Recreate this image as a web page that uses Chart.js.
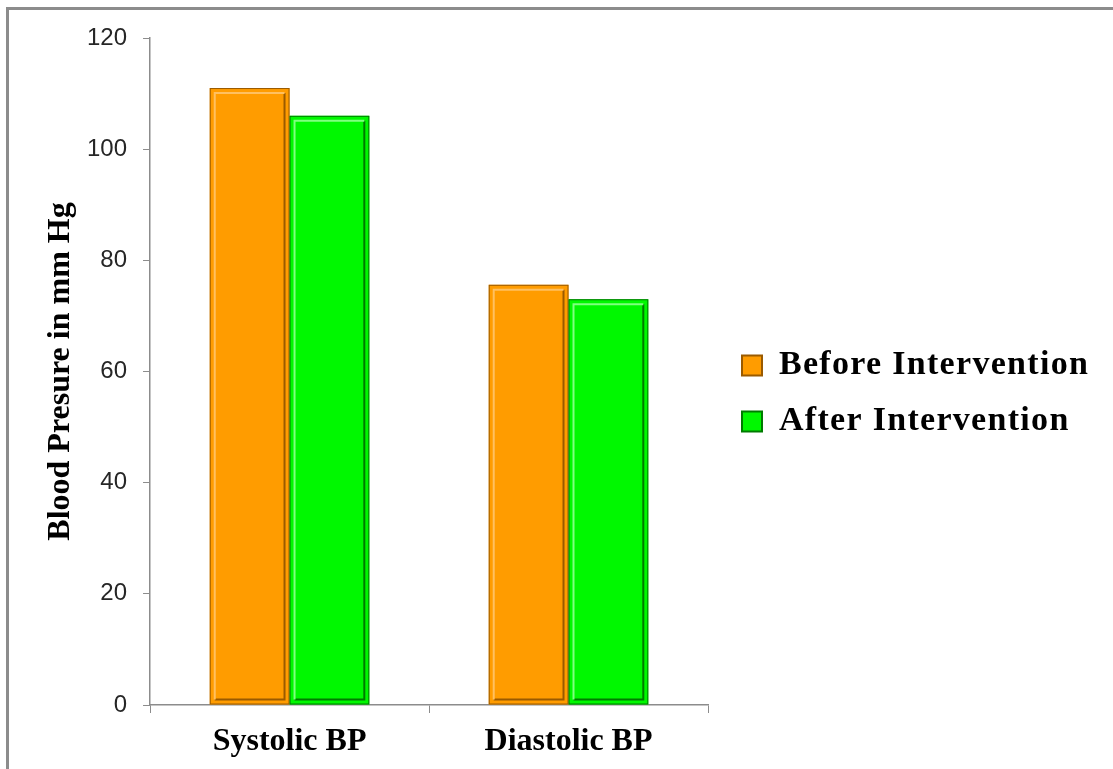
<!DOCTYPE html>
<html>
<head>
<meta charset="utf-8">
<script src="https://cdn.jsdelivr.net/npm/chart.js@4.4.1/dist/chart.umd.min.js"></script>
<style>
  html, body { margin: 0; padding: 0; background: #fff; }
  #wrap { position: relative; width: 1113px; height: 769px; overflow: hidden; }
  #frame { position: absolute; left: 6px; top: 7px; right: 0; bottom: -10px;
           border-left: 3px solid #8c8c8c; border-top: 3px solid #8c8c8c; pointer-events: none; }
  canvas { position: absolute; left: 0; top: 0; }
</style>
</head>
<body>
<div id="wrap">
  <canvas id="bp" width="1113" height="769"></canvas>
  <div id="frame"></div>
</div>
<script>
// ── data ──────────────────────────────────────────────────────────────────
const categories = ['Systolic BP', 'Diastolic BP'];
const seriesNames = ['Before Intervention', 'After Intervention'];
const beforeValues = [111, 75.6];
const afterValues = [106, 73];
const yTicks = [0, 20, 40, 60, 80, 100, 120];

const orange = { fill: '#ff9c00', dark: '#9a5a00', light: '#ffc060' };
const green = { fill: '#00f800', dark: '#007a00', light: '#80ff80' };

// Bevel look of the Excel bars: dark rim right/bottom, light rim top/left.
const bevel = {
    id: 'bevel',
    afterDatasetsDraw(chart) {
        const ctx = chart.ctx;
        chart.data.datasets.forEach((ds, i) => {
            const col = ds._col;
            chart.getDatasetMeta(i).data.forEach((bar) => {
                const l = bar.x - bar.width / 2, r = bar.x + bar.width / 2;
                const t = bar.y, b = bar.base;
                ctx.save();
                ctx.lineWidth = 2;
                ctx.strokeStyle = col.dark;
                ctx.beginPath();
                ctx.moveTo(r - 5, t + 5); ctx.lineTo(r - 5, b - 5); ctx.lineTo(l + 5, b - 5);
                ctx.stroke();
                ctx.strokeStyle = col.light;
                ctx.beginPath();
                ctx.moveTo(l + 5, b - 5); ctx.lineTo(l + 5, t + 5); ctx.lineTo(r - 5, t + 5);
                ctx.stroke();
                ctx.lineWidth = 1;
                ctx.strokeStyle = col.dark;
                ctx.strokeRect(l + 0.5, t + 0.5, bar.width - 1, b - t - 1);
                ctx.restore();
            });
        });
    },
};

// Legend in the reference is wider than Chart.js allows a side box to be,
// so widen it after fit and nudge it into place.
const LEGEND_W = 405;
const legendTweak = {
    id: 'legendTweak',
    beforeLayout(chart) {
        const lg = chart.legend;
        if (!lg || lg._tweaked) return;
        lg._tweaked = true;
        const fit = lg.fit.bind(lg);
        lg.fit = function () { fit(); this.width = LEGEND_W; };
        const draw = lg.draw.bind(lg);
        lg.draw = function () {
            const ctx = this.ctx;
            const prev = ctx.letterSpacing;
            ctx.letterSpacing = '1.3px';
            draw();
            ctx.letterSpacing = prev || '0px';
        };
    },
    afterLayout(chart) {
        const lg = chart.legend;
        lg.left += 12; lg.right += 12;
        lg.top -= 11; lg.bottom -= 11;
    },
};

const serif = '"Liberation Serif", "Times New Roman", serif';

new Chart(document.getElementById('bp'), {
    type: 'bar',
    data: {
        labels: categories,
        datasets: [
            { label: seriesNames[0], data: beforeValues, backgroundColor: orange.fill,
              borderColor: orange.dark, borderWidth: 0, _col: orange },
            { label: seriesNames[1], data: afterValues, backgroundColor: green.fill,
              borderColor: green.dark, borderWidth: 0, _col: green },
        ],
    },
    options: {
        responsive: false,
        animation: false,
        layout: { padding: { left: 45, top: 38, right: 0, bottom: -2 } },
        datasets: { bar: { categoryPercentage: 0.572, barPercentage: 1 } },
        plugins: {
            tooltip: { enabled: false },
            legend: {
                position: 'right',
                labels: {
                    font: { family: serif, size: 34, weight: 'bold' },
                    color: '#000',
                    boxWidth: 20,
                    boxHeight: 20,
                    padding: 22,
                    generateLabels: (chart) => chart.data.datasets.map((ds, i) => ({
                        text: ds.label, fillStyle: ds._col.fill, strokeStyle: ds._col.dark,
                        lineWidth: 2, datasetIndex: i, hidden: false,
                    })),
                },
            },
        },
        scales: {
            x: {
                grid: { drawOnChartArea: false, offset: true, color: '#8c8c8c', tickLength: 8 },
                border: { color: '#8c8c8c', width: 1.5 },
                ticks: { color: '#000', padding: 13, font: { family: serif, size: 32, weight: 'bold', lineHeight: 1 } },
            },
            y: {
                min: 0, max: 120,
                afterBuildTicks: (axis) => { axis.ticks = yTicks.map((v) => ({ value: v })); },
                grid: { drawOnChartArea: false, color: '#8c8c8c', tickLength: 7 },
                border: { color: '#8c8c8c', width: 1.5 },
                ticks: { color: '#262626', padding: 16, font: { family: '"Liberation Sans", Arial, sans-serif', size: 24 } },
                title: {
                    display: true, text: 'Blood Presure in mm Hg', color: '#000',
                    font: { family: serif, size: 32, weight: 'bold', lineHeight: 1 }, padding: { top: 0, bottom: -6 },
                },
            },
        },
    },
    plugins: [bevel, legendTweak],
});
</script>
</body>
</html>
